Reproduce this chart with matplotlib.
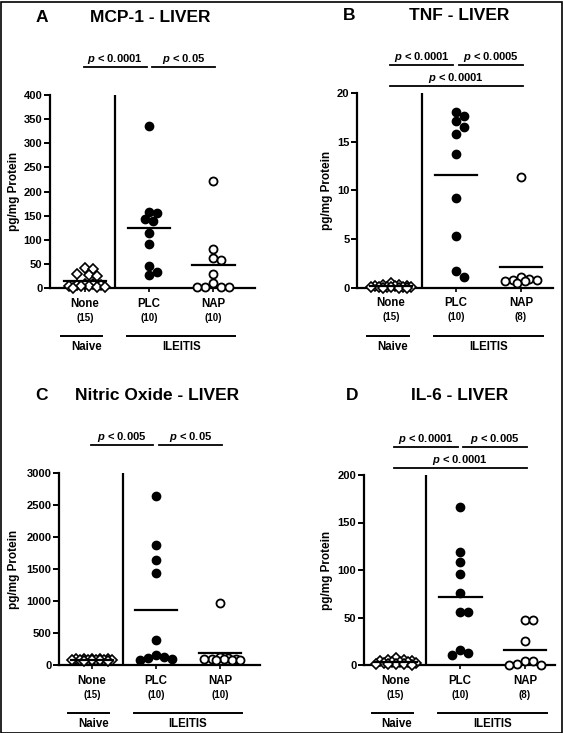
import numpy as np
import matplotlib
matplotlib.use("Agg")
import matplotlib.pyplot as plt
from matplotlib.patches import Rectangle
from matplotlib.transforms import blended_transform_factory

plt.rcParams["font.family"] = ["Liberation Sans", "DejaVu Sans"]
plt.rcParams["font.weight"] = "bold"
plt.rcParams["mathtext.fontset"] = "custom"
plt.rcParams["mathtext.it"] = "Liberation Sans:italic:bold"
plt.rcParams["mathtext.rm"] = "Liberation Sans:bold"

W, H = 563, 733

# data (pg/mg protein)
groups = ["None", "PLC", "NAP"]

mcp_none = [41, 40, 29, 26, 24, 9, 8, 7, 6, 5, 5, 4, 3, 2, 1]
mcp_plc = [336, 157, 155, 143, 139, 115, 92, 46, 34, 26]
mcp_nap = [222, 81, 63, 57, 28, 10, 3, 3, 3, 3]
mcp_n = [15, 10, 10]

tnf_none = [0.5, 0.3, 0.25, 0.2, 0.2, 0.15, 0.1, 0.1, 0.1, 0.05, 0.05, 0.05, 0.0, 0.0, 0.0]
tnf_plc = [18.0, 17.6, 17.1, 16.5, 15.8, 13.7, 9.2, 5.3, 1.7, 1.1]
tnf_nap = [11.4, 1.1, 0.9, 0.8, 0.8, 0.7, 0.7, 0.5]
tnf_n = [15, 10, 8]

no_none = [95, 92, 90, 88, 87, 85, 84, 82, 80, 78, 76, 75, 73, 70, 68]
no_plc = [2640, 1875, 1636, 1440, 384, 150, 120, 110, 90, 77]
no_nap = [971, 120, 110, 100, 95, 90, 90, 85, 80, 79]
no_n = [15, 10, 10]

il6_none = [7, 5, 5, 4, 4, 3, 3, 3, 2, 2, 1, 1, 1, 1, 0]
il6_plc = [166, 119, 108, 96, 76, 56, 56, 16, 13, 11]
il6_nap = [47, 47, 25, 4.5, 4.5, 1, 0.5, 0.3]
il6_n = [15, 10, 8]

panels = [
    dict(letter="A", title="MCP-1 - LIVER", data=[mcp_none, mcp_plc, mcp_nap], n=mcp_n,
         ymax=400, step=50, pvals=["< 0.0001", "< 0.05"], plong=None),
    dict(letter="B", title="TNF - LIVER", data=[tnf_none, tnf_plc, tnf_nap], n=tnf_n,
         ymax=20, step=5, pvals=["< 0.0001", "< 0.0005"], plong="< 0.0001"),
    dict(letter="C", title="Nitric Oxide - LIVER", data=[no_none, no_plc, no_nap], n=no_n,
         ymax=3000, step=500, pvals=["< 0.005", "< 0.05"], plong=None),
    dict(letter="D", title="IL-6 - LIVER", data=[il6_none, il6_plc, il6_nap], n=il6_n,
         ymax=200, step=50, pvals=["< 0.0001", "< 0.005"], plong="< 0.0001"),
]

# layout in pixels: axes left, right, top, bottom, x of first group, group spacing,
# divider x, ylabel x, title y, letter x, title center x
layout = [
    dict(l=50, r=255, t=95, b=288, x0=85, sp=64.2, div=115, ylab=14, ty=17, lx=42, tx=150),
    dict(l=357, r=553, t=93, b=287.5, x0=391, sp=65, div=422, ylab=327, ty=16, lx=349, tx=459),
    dict(l=59, r=260, t=473, b=665, x0=92, sp=64, div=123, ylab=14, ty=395, lx=42, tx=157),
    dict(l=364, r=555, t=475, b=665, x0=395.5, sp=64.7, div=426, ylab=327, ty=395, lx=352, tx=460),
]


def swarm(vals, ymax, h_px, sp_px, d_px=8.0, maxw=20.0):
    """simple beeswarm, returns x offsets in group units"""
    vals = np.asarray(vals, float)
    ypx = vals / ymax * h_px
    offs = np.zeros(len(vals))
    placed = []
    cands = [0.0]
    k = 1
    while k * d_px / 2 <= maxw:
        cands += [k * d_px / 2, -k * d_px / 2]
        k += 1
    for i in np.argsort(-vals):
        best, bestd = 0.0, -1
        for c in cands:
            if placed:
                dmin = min(np.hypot(c - px, ypx[i] - py) for px, py in placed)
            else:
                dmin = 1e9
            if dmin >= d_px * 0.95:
                best = c
                break
            if dmin > bestd:
                best, bestd = c, dmin
        offs[i] = best
        placed.append((best, ypx[i]))
    return offs / sp_px


fig = plt.figure(figsize=(W / 100, H / 100), dpi=100)

marker_styles = [
    dict(marker="D", ms=4.8, mfc="white", mec="black", mew=1.2),
    dict(marker="o", ms=6.0, mfc="black", mec="black", mew=1.0),
    dict(marker="o", ms=5.8, mfc="white", mec="black", mew=1.3),
]

for p, L in zip(panels, layout):
    ax = fig.add_axes([L["l"] / W, 1 - L["b"] / H, (L["r"] - L["l"]) / W, (L["b"] - L["t"]) / H])
    ax.set_xlim((L["l"] - L["x0"]) / L["sp"], (L["r"] - L["x0"]) / L["sp"])
    ax.set_ylim(0, p["ymax"])
    h_px = L["b"] - L["t"]
    for i, vals in enumerate(p["data"]):
        offs = swarm(vals, p["ymax"], h_px, L["sp"])
        ax.plot(i + offs, vals, ls="none", clip_on=False, zorder=3, **marker_styles[i])
        m = np.mean(vals)
        ax.plot([i - 0.33, i + 0.33], [m, m], color="black", lw=1.6, clip_on=False, zorder=4)

    ax.axvline((L["div"] - L["x0"]) / L["sp"], color="black", lw=1.6)
    for s in ["top", "right"]:
        ax.spines[s].set_visible(False)
    for s in ["left", "bottom"]:
        ax.spines[s].set_linewidth(1.6)
    ax.set_yticks(np.arange(0, p["ymax"] + 1, p["step"]))
    ax.tick_params(axis="y", direction="out", length=4, width=1.4, labelsize=8, pad=1.5)
    ax.set_xticks([0, 1, 2])
    ax.set_xticklabels([])
    ax.tick_params(axis="x", direction="out", length=3, width=1.2)
    for lab in ax.get_yticklabels():
        lab.set_fontweight("bold")
    ax.set_ylabel("pg/mg Protein", fontsize=8.5, fontweight="bold", va="center")
    ax.yaxis.set_label_coords((L["ylab"] - L["l"]) / (L["r"] - L["l"]), 0.5)

    # category labels below axis
    tr = blended_transform_factory(ax.transData, ax.transAxes)
    for i, g in enumerate(groups):
        ax.text(i, -16 / h_px, g, transform=tr, ha="center", va="center", fontsize=8.3, fontweight="bold")
        ax.text(i, -30 / h_px, f"({p['n'][i]})", transform=tr, ha="center", va="center",
                fontsize=7.0, fontweight="bold")
    yl = -48 / h_px
    ax.plot([-0.37, 0.27], [yl, yl], transform=tr, color="black", lw=1.4, clip_on=False)
    ax.plot([0.66, 2.34], [yl, yl], transform=tr, color="black", lw=1.4, clip_on=False)
    ax.text(0.02, -59 / h_px, "Naive", transform=tr, ha="center", va="center", fontsize=8.3, fontweight="bold")
    ax.text(1.5, -59 / h_px, "ILEITIS", transform=tr, ha="center", va="center", fontsize=8.3, fontweight="bold")

    # significance bars
    top = L["b"]
    y_line = (top - (L["t"] - 28)) / h_px
    y_txt = (top - (L["t"] - 36)) / h_px
    for (a, b), pv in zip([(-0.02, 0.96), (1.05, 2.03)], p["pvals"]):
        ax.plot([a, b], [y_line, y_line], transform=tr, color="black", lw=1.3, clip_on=False)
        ax.text((a + b) / 2, y_txt, "$p$ " + pv, transform=tr, ha="center", va="center",
                fontsize=8.0, fontweight="bold")
    if p["plong"]:
        y2 = (top - (L["t"] - 7)) / h_px
        y2t = (top - (L["t"] - 15)) / h_px
        ax.plot([-0.02, 2.03], [y2, y2], transform=tr, color="black", lw=1.3, clip_on=False)
        ax.text(1.0, y2t, "$p$ " + p["plong"], transform=tr, ha="center", va="center",
                fontsize=8.0, fontweight="bold")

    fig.text(L["lx"] / W, 1 - L["ty"] / H, p["letter"], ha="center", va="center",
             fontsize=12.5, fontweight="bold")
    fig.text(L["tx"] / W, 1 - L["ty"] / H, p["title"], ha="center", va="center",
             fontsize=12.5, fontweight="bold")

fig.patches.append(Rectangle((0.5 / W, 0.5 / H), 1 - 2 / W, 1 - 2 / H, transform=fig.transFigure,
                             fill=False, edgecolor="black", lw=1.2))

fig.savefig("out.png", dpi=100)
